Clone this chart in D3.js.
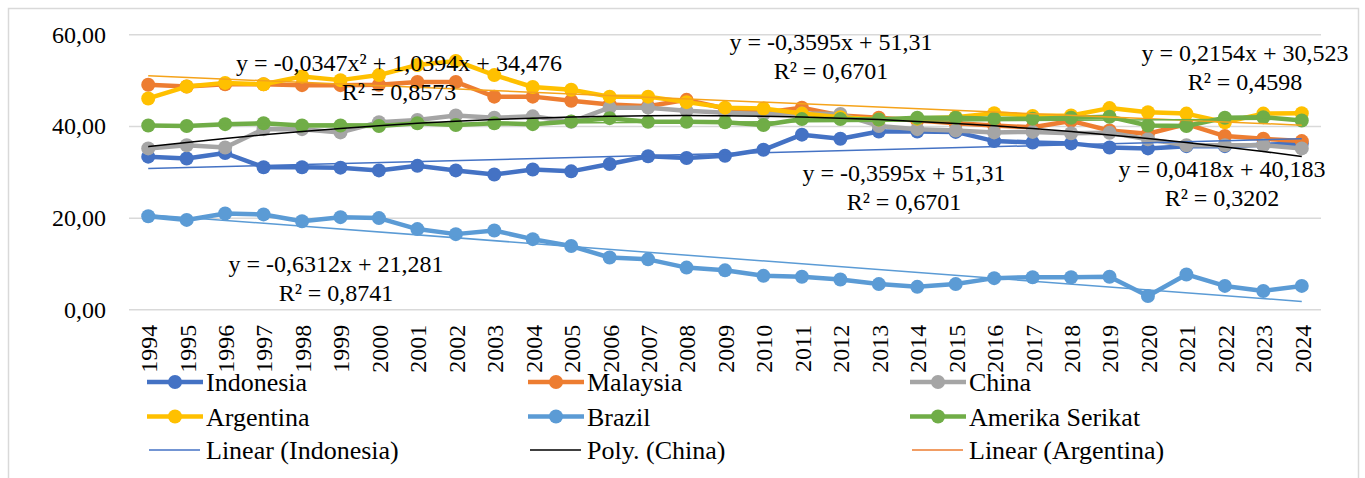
<!DOCTYPE html>
<html>
<head>
<meta charset="utf-8">
<script src="https://cdn.jsdelivr.net/npm/d3@7/dist/d3.min.js"></script>
<style>
  body { margin: 0; background: #fff; }
  svg { display: block; }
  text { font-family: 'Liberation Serif', 'DejaVu Serif', serif; fill: #000; }
</style>
</head>
<body>
<svg id="chart" width="1365" height="478"></svg>
<script>
// data
var years = [1994, 1995, 1996, 1997, 1998, 1999, 2000, 2001, 2002, 2003, 2004,
  2005, 2006, 2007, 2008, 2009, 2010, 2011, 2012, 2013, 2014,
  2015, 2016, 2017, 2018, 2019, 2020, 2021, 2022, 2023, 2024];

var indonesia = [33.3, 32.9, 34.1, 31.0, 31.0, 30.9, 30.3, 31.3, 30.3, 29.4, 30.5,
  30.1, 31.7, 33.4, 33.0, 33.5, 34.8, 38.1, 37.2, 38.8, 38.8,
  38.7, 36.7, 36.4, 36.2, 35.3, 35.1, 35.6, 35.6, 35.9, 36.2];
var malaysia = [49.0, 48.6, 49.1, 49.1, 48.9, 48.9, 49.0, 49.6, 49.6, 46.4, 46.4,
  45.5, 44.7, 44.3, 45.7, 43.8, 42.9, 44.0, 42.3, 41.8, 41.2,
  40.6, 40.1, 39.7, 41.1, 39.0, 38.3, 40.4, 37.8, 37.2, 36.7];
var china = [35.1, 35.8, 35.3, 39.3, 39.3, 38.6, 40.8, 41.3, 42.3, 41.8, 42.1,
  40.9, 44.0, 44.0, 43.3, 42.9, 42.6, 42.7, 42.6, 40.0, 39.3,
  39.0, 38.6, 38.7, 38.4, 38.5, 37.1, 35.8, 35.8, 35.8, 35.1];
var argentina = [46.0, 48.6, 49.4, 49.1, 50.8, 50.0, 51.1, 53.3, 54.2, 51.1, 48.5,
  47.9, 46.4, 46.4, 45.2, 44.0, 43.8, 42.7, 41.9, 41.4, 41.6,
  41.9, 42.8, 42.2, 42.3, 43.9, 43.0, 42.7, 40.8, 42.7, 42.8];
var brazil = [20.3, 19.5, 20.9, 20.7, 19.2, 20.1, 19.9, 17.5, 16.4, 17.2, 15.3,
  13.8, 11.3, 10.9, 9.1, 8.5, 7.3, 7.1, 6.5, 5.5, 4.9,
  5.5, 6.8, 7.0, 7.0, 7.1, 2.9, 7.6, 5.1, 4.0, 5.1];
var amerikaSerikat = [40.1, 40.0, 40.4, 40.6, 40.1, 40.1, 40.0, 40.6, 40.2, 40.6, 40.4,
  41.0, 41.7, 40.9, 40.9, 40.8, 40.2, 41.5, 41.5, 41.4, 41.8,
  41.8, 41.6, 41.6, 41.8, 42.0, 40.1, 40.0, 41.8, 41.9, 41.2];

var seriesNames = ["Indonesia", "Malaysia", "China", "Argentina", "Brazil", "Amerika Serikat"];
var seriesValues = [indonesia, malaysia, china, argentina, brazil, amerikaSerikat];
var seriesColors = ["#4472C4", "#ED7D31", "#A5A5A5", "#FFC000", "#5B9BD5", "#70AD47"];

var yTicks = [0, 20, 40, 60];

// trendline coefficients as printed on the chart (x = 1 .. 31)
var trendNames = ["Indonesia", "Brazil", "Argentina", "Amerika Serikat"];
var trendSlopes = [0.2154, -0.6312, -0.3595, 0.0418];
var trendIntercepts = [30.523, 21.281, 51.31, 40.183];
var trendColors = ["#4472C4", "#5B9BD5", "#F5A31A", "#70AD47"];
var polyChina = [-0.0347, 1.0394, 34.476];

var eqLines = [
  ["y = -0,0347x² + 1,0394x + 34,476", "R² = 0,8573"],
  ["y = -0,3595x + 51,31", "R² = 0,6701"],
  ["y = 0,2154x + 30,523", "R² = 0,4598"],
  ["y = -0,3595x + 51,31", "R² = 0,6701"],
  ["y = 0,0418x + 40,183", "R² = 0,3202"],
  ["y = -0,6312x + 21,281", "R² = 0,8741"]
];
var eqPos = [[399, 63], [831, 42], [1245, 53], [904, 173], [1222, 169], [336, 264]];

var legendNames = ["Indonesia", "Malaysia", "China", "Argentina", "Brazil", "Amerika Serikat",
  "Linear (Indonesia)", "Poly. (China)", "Linear (Argentina)"];
var legendColors = ["#4472C4", "#ED7D31", "#A5A5A5", "#FFC000", "#5B9BD5", "#70AD47",
  "#4472C4", "#000000", "#ED7D31"];

var serif = "'Liberation Serif', 'DejaVu Serif', serif";

var svg = d3.select("#chart");
svg.append("rect")
  .attr("x", 8.5).attr("y", 8.5)
  .attr("width", 1350).attr("height", 490)
  .attr("fill", "#fff")
  .attr("stroke", "#D9D9D9")
  .attr("stroke-width", 1.5);

var left = 129, right = 1321;
var x = d3.scalePoint().domain(years).range([left, right]).padding(0.5);
var y = d3.scaleLinear().domain([0, 60]).range([309.3, 34.3]);

var idLocale = d3.formatLocale({decimal: ",", thousands: ".", grouping: [3], currency: ["", ""]});
var fmt = idLocale.format(".2f");

// y axis with gridlines
var yAxis = d3.axisLeft(y)
  .tickValues(yTicks)
  .tickSize(-(right - left))
  .tickPadding(23)
  .tickFormat(fmt);
var gy = svg.append("g").attr("transform", "translate(" + left + ",0)").call(yAxis);
gy.attr("font-family", serif);
gy.select(".domain").remove();
gy.selectAll(".tick line").attr("stroke", "#D9D9D9").attr("stroke-width", 1.5);
gy.selectAll(".tick text")
  .attr("font-family", serif)
  .attr("font-size", 24)
  .attr("dy", "0.33em");

// x axis, rotated year labels
var xAxis = d3.axisBottom(x).tickSize(0);
var gx = svg.append("g").attr("transform", "translate(0," + y(0) + ")").call(xAxis);
gx.attr("font-family", serif);
gx.select(".domain").remove();
gx.selectAll(".tick text")
  .attr("font-family", serif)
  .attr("font-size", 24)
  .attr("transform", "rotate(-90)")
  .attr("text-anchor", "end")
  .attr("x", -15.5)
  .attr("y", 0)
  .attr("dy", "0.35em");

// series lines and markers
var line = d3.line()
  .x(function(d, i) { return x(years[i]); })
  .y(function(d) { return y(d); });

seriesValues.forEach(function(vals, k) {
  var g = svg.append("g");
  g.append("path")
    .attr("d", line(vals))
    .attr("fill", "none")
    .attr("stroke", seriesColors[k])
    .attr("stroke-width", 4.5)
    .attr("stroke-linejoin", "round");
  g.selectAll("circle").data(vals).enter().append("circle")
    .attr("cx", function(d, i) { return x(years[i]); })
    .attr("cy", function(d) { return y(d); })
    .attr("r", 7)
    .attr("fill", seriesColors[k]);
});

// linear trendlines
var n = years.length;
trendNames.forEach(function(name, k) {
  var ends = [[years[0], trendIntercepts[k] + trendSlopes[k] * 1],
              [years[n - 1], trendIntercepts[k] + trendSlopes[k] * n]];
  svg.append("path")
    .attr("d", d3.line().x(function(d) { return x(d[0]); }).y(function(d) { return y(d[1]); })(ends))
    .attr("fill", "none")
    .attr("stroke", trendColors[k])
    .attr("stroke-width", 1.5);
});

// polynomial trendline for China
var polyPts = years.map(function(yr, i) {
  var t = i + 1;
  return [yr, polyChina[0] * t * t + polyChina[1] * t + polyChina[2]];
});
svg.append("path")
  .attr("d", d3.line().curve(d3.curveNatural)
    .x(function(d) { return x(d[0]); })
    .y(function(d) { return y(d[1]); })(polyPts))
  .attr("fill", "none")
  .attr("stroke", "#000")
  .attr("stroke-width", 1.5);

// trendline labels
eqLines.forEach(function(pair, k) {
  var t = svg.append("text")
    .attr("font-family", serif)
    .attr("font-size", 24)
    .attr("text-anchor", "middle");
  pair.forEach(function(s, j) {
    t.append("tspan")
      .attr("x", eqPos[k][0])
      .attr("y", eqPos[k][1] + j * 29)
      .attr("dy", "0.35em")
      .text(s);
  });
});

// legend
var legX = [147, 528, 910];
var legY = [382, 416.5, 450];
legendNames.forEach(function(name, i) {
  var lx = legX[i % 3], ly = legY[Math.floor(i / 3)];
  var g = svg.append("g");
  if (i < 6) {
    g.append("line")
      .attr("x1", lx).attr("x2", lx + 56)
      .attr("y1", ly).attr("y2", ly)
      .attr("stroke", legendColors[i])
      .attr("stroke-width", 4.5);
    g.append("circle")
      .attr("cx", lx + 28).attr("cy", ly)
      .attr("r", 7)
      .attr("fill", legendColors[i]);
  } else {
    g.append("line")
      .attr("x1", lx + 2).attr("x2", lx + 53)
      .attr("y1", ly).attr("y2", ly)
      .attr("stroke", legendColors[i])
      .attr("stroke-width", 1.5);
  }
  g.append("text")
    .attr("x", lx + 59)
    .attr("y", ly)
    .attr("dy", "0.35em")
    .attr("font-family", serif)
    .attr("font-size", 26)
    .text(name);
});
</script>
</body>
</html>
